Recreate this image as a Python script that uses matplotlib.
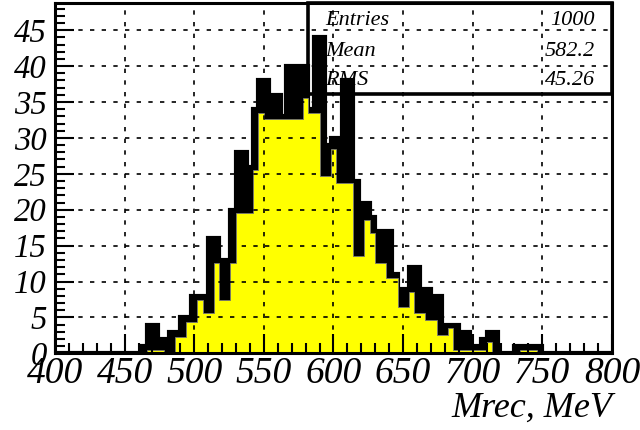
import matplotlib
matplotlib.use("Agg")
import matplotlib.pyplot as plt
import numpy as np
from matplotlib.patches import Rectangle
from matplotlib.ticker import MultipleLocator

plt.rcParams["font.family"] = ["Liberation Serif", "DejaVu Serif"]
plt.rcParams["font.style"] = "italic"

# 4 MeV bins, first non-empty bin starts at 462 MeV
bin_width = 4
first_edge = 462
black_counts = [
    1, 4, 4, 2, 2, 3, 3, 5, 5, 8, 8, 8, 16, 16, 13, 13, 20, 28, 28, 26,
    34, 38, 38, 36, 36, 33, 40, 40, 40, 40, 34, 44, 44, 29, 30, 30, 38, 38,
    24, 21, 21, 19, 17, 17, 17, 11, 9, 9, 12, 12, 9, 9, 8, 8, 4, 4, 4, 3,
    3, 1, 1, 2, 3, 3, 0, 0, 0, 1, 1, 1, 1, 1,
]
yellow_counts = [
    0, 0.5, 0.5, 0.5, 0, 0, 2.2, 2.2, 4.3, 4.3, 7.4, 5.6, 5.6, 12.6, 7.4,
    7.4, 12.6, 19.6, 19.6, 19.6, 25.5, 33.5, 32.6, 32.6, 32.6, 32.6, 32.6,
    32.6, 32.6, 35.6, 33.5, 33.5, 24.7, 24.7, 28.4, 23.7, 23.7, 23.7, 13.5,
    13.5, 18.6, 16.7, 12.6, 12.6, 10.5, 10.5, 6.5, 6.5, 8.5, 5.6, 5.6, 4.65,
    4.65, 2.6, 2.6, 3.5, 0.5, 0.5, 0.5, 0.5, 0.5, 0.5, 1.6, 0, 0, 0, 0, 0,
    0.5, 0.5, 0.5, 0,
]
stat_names = ["Entries", "Mean", "RMS"]
stat_values = ["1000", "582.2", "45.26"]

# full binning over the drawn range (empty bins keep the outline on the baseline)
edges = np.arange(398, 803, bin_width)
black_full = np.zeros(len(edges) - 1)
yellow_full = np.zeros(len(edges) - 1)
i0 = (first_edge - edges[0]) // bin_width
black_full[i0:i0 + len(black_counts)] = black_counts
yellow_full[i0:i0 + len(yellow_counts)] = yellow_counts

fig = plt.figure(figsize=(6.4, 4.3), dpi=100)
ax = fig.add_axes([0.0859, 0.1784, 0.8703, 0.8147])

ax.stairs(black_full, edges, fill=True, facecolor="black", edgecolor="black", lw=3)
ax.stairs(yellow_full, edges, fill=True, facecolor="#ffff00", edgecolor="#777777", lw=0.6)

ax.set_xlim(400, 800)
ax.set_ylim(0, 48.8)
ax.xaxis.set_major_locator(MultipleLocator(50))
ax.xaxis.set_minor_locator(MultipleLocator(10))
ax.yaxis.set_major_locator(MultipleLocator(5))
ax.yaxis.set_minor_locator(MultipleLocator(1))
ax.tick_params(which="both", direction="in", top=False, right=False, width=1.5, color="black")
ax.tick_params(which="major", length=14)
ax.tick_params(which="minor", length=7)
ax.tick_params(axis="x", labelsize=27, pad=2)
ax.tick_params(axis="y", labelsize=23.5, pad=6)
ax.grid(True, which="major", color="black", lw=1.2, linestyle=(0, (2.6, 4.4)))
ax.set_axisbelow(False)
for s in ax.spines.values():
    s.set_linewidth(2.2)
    s.set_zorder(3)

# stats box
ax.add_patch(Rectangle((0.454, 0.741), 0.546, 0.259, transform=ax.transAxes,
                       fill=False, lw=2.6, ec="black", clip_on=False, zorder=4))
rows_y = [0.937, 0.8496, 0.766]
for name, val, y in zip(stat_names, stat_values, rows_y):
    ax.text(0.4847, y, name, transform=ax.transAxes, fontsize=16, va="baseline", ha="left", zorder=5)
    ax.text(0.9695, y, val, transform=ax.transAxes, fontsize=16, va="baseline", ha="right", zorder=5)

fig.text(612 / 640, 13 / 430, "Mrec, MeV", fontsize=26, ha="right", va="baseline")

fig.savefig("out.png", dpi=100)
